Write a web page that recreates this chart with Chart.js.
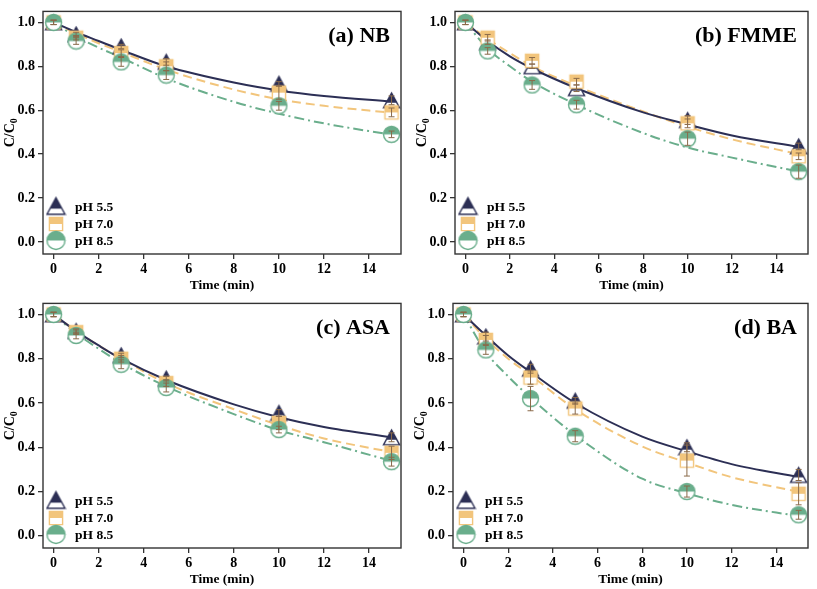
<!DOCTYPE html>
<html><head><meta charset="utf-8">
<script src="https://cdn.jsdelivr.net/npm/chart.js@4.4.1/dist/chart.umd.min.js"></script>
<style>
body{margin:0;background:#fff;width:817px;height:589px;overflow:hidden;position:relative}
canvas{position:absolute}
</style></head><body>
<canvas id="ca" width="410" height="292" style="left:0;top:0"></canvas>
<canvas id="cb" width="407" height="292" style="left:410px;top:0"></canvas>
<canvas id="cc" width="410" height="294" style="left:0;top:292px"></canvas>
<canvas id="cd" width="407" height="294" style="left:410px;top:292px"></canvas>
<script>
// ---------------- DATA ----------------
const times = [0, 1, 3, 5, 10, 15];
const fitTimes = [0, 1, 2, 3, 5, 8, 10, 12, 15];
const xTicks = [0, 2, 4, 6, 8, 10, 12, 14];
const yTicks = [0, 0.2, 0.4, 0.6, 0.8, 1.0];
const seriesNames = ['pH 5.5', 'pH 7.0', 'pH 8.5'];
const panelLabels = ['(a) NB', '(b) FMME', '(c) ASA', '(d) BA'];

// (a) NB
const nb_55 = [1.00, 0.945, 0.89, 0.82, 0.72, 0.645];
const nb_70 = [1.00, 0.93, 0.86, 0.80, 0.68, 0.59];
const nb_85 = [1.00, 0.915, 0.82, 0.76, 0.62, 0.49];
const nb_55_err = [0.01, 0.01, 0.01, 0.015, 0.01, 0.02];
const nb_70_err = [0.01, 0.01, 0.015, 0.02, 0.03, 0.02];
const nb_85_err = [0.01, 0.015, 0.02, 0.02, 0.02, 0.015];
const nb_55_fit = [1.0, 0.955, 0.915, 0.875, 0.80, 0.726, 0.69, 0.665, 0.64];
const nb_70_fit = [1.0, 0.95, 0.905, 0.865, 0.785, 0.694, 0.65, 0.62, 0.588];
const nb_85_fit = [1.0, 0.935, 0.885, 0.84, 0.745, 0.638, 0.584, 0.54, 0.488];

// (b) FMME
const fm_55 = [1.00, 0.91, 0.80, 0.70, 0.555, 0.435];
const fm_70 = [1.00, 0.93, 0.825, 0.73, 0.54, 0.39];
const fm_85 = [1.00, 0.87, 0.715, 0.625, 0.47, 0.32];
const fm_55_err = [0.01, 0.01, 0.01, 0.015, 0.02, 0.015];
const fm_70_err = [0.01, 0.015, 0.015, 0.015, 0.02, 0.015];
const fm_85_err = [0.01, 0.015, 0.02, 0.02, 0.03, 0.03];
const fm_55_fit = [1.0, 0.915, 0.845, 0.79, 0.70, 0.59, 0.535, 0.485, 0.433];
const fm_70_fit = [1.0, 0.925, 0.86, 0.80, 0.71, 0.594, 0.525, 0.467, 0.40];
const fm_85_fit = [1.0, 0.88, 0.80, 0.73, 0.625, 0.496, 0.43, 0.384, 0.32];

// (c) ASA
const as_55 = [1.00, 0.925, 0.815, 0.71, 0.555, 0.445];
const as_70 = [1.00, 0.92, 0.80, 0.69, 0.51, 0.375];
const as_85 = [1.00, 0.905, 0.775, 0.67, 0.48, 0.335];
const as_55_err = [0.01, 0.01, 0.01, 0.01, 0.015, 0.02];
const as_70_err = [0.01, 0.01, 0.015, 0.015, 0.03, 0.03];
const as_85_err = [0.01, 0.015, 0.02, 0.02, 0.015, 0.02];
const as_55_fit = [1.0, 0.925, 0.86, 0.80, 0.704, 0.594, 0.536, 0.492, 0.445];
const as_70_fit = [1.0, 0.925, 0.86, 0.80, 0.69, 0.572, 0.50, 0.44, 0.378];
const as_85_fit = [1.0, 0.915, 0.845, 0.78, 0.675, 0.55, 0.477, 0.423, 0.338];

// (d) BA
const ba_55 = [1.00, 0.90, 0.755, 0.61, 0.40, 0.275];
const ba_70 = [1.00, 0.885, 0.715, 0.575, 0.34, 0.19];
const ba_85 = [1.00, 0.84, 0.62, 0.45, 0.20, 0.095];
const ba_55_err = [0.01, 0.02, 0.02, 0.015, 0.02, 0.025];
const ba_70_err = [0.01, 0.02, 0.03, 0.025, 0.07, 0.05];
const ba_85_err = [0.01, 0.02, 0.055, 0.025, 0.025, 0.02];
const ba_55_fit = [1.0, 0.905, 0.815, 0.74, 0.60, 0.448, 0.382, 0.324, 0.265];
const ba_70_fit = [1.0, 0.89, 0.80, 0.726, 0.572, 0.404, 0.331, 0.265, 0.199];
const ba_85_fit = [1.0, 0.83, 0.72, 0.624, 0.455, 0.258, 0.192, 0.14, 0.089];

// ---------------- STYLE ----------------
const COLORS = ['#2c2f55', '#f2c57c', '#6aae8c'];
const ERR_COLOR = '#8a6a4a';
const FONT = "'Liberation Serif', 'Times New Roman', serif";
const SHAPES = ['tri', 'sq', 'circ'];
const DASHES = [[], [9, 5], [10, 4, 2, 4]];

function makeMarker(shape, color, size) {
  const c = document.createElement('canvas');
  const s = size + 3;
  c.width = s; c.height = s;
  const g = c.getContext('2d');
  const cx = s / 2, cy = s / 2, r = size / 2;
  g.lineWidth = 1.4;
  function path() {
    g.beginPath();
    if (shape === 'tri') {
      const h = size * 0.92;
      g.moveTo(cx, cy - h / 2);
      g.lineTo(cx + r, cy + h / 2);
      g.lineTo(cx - r, cy + h / 2);
      g.closePath();
    } else if (shape === 'sq') {
      const q = r * 0.88;
      g.rect(cx - q, cy - q, 2 * q, 2 * q);
    } else {
      g.arc(cx, cy, r, 0, Math.PI * 2);
    }
  }
  path(); g.fillStyle = '#fff'; g.fill();
  g.save();
  path(); g.clip();
  const frac = shape === 'tri' ? 0.66 : 0.5;
  const top = shape === 'tri' ? cy - size * 0.46 : (shape === 'sq' ? cy - r * 0.88 : cy - r);
  const h = shape === 'tri' ? size * 0.92 * frac : (shape === 'sq' ? r * 0.88 * 2 * frac : r);
  g.fillStyle = color;
  g.fillRect(0, top - 1, s, h + 1);
  g.restore();
  path(); g.strokeStyle = color; g.stroke();
  return c;
}
const dataMarkers = SHAPES.map((sh, i) => makeMarker(sh, COLORS[i], sh === 'sq' ? 15 : 16));
const legendMarkers = SHAPES.map((sh, i) => makeMarker(sh, COLORS[i], sh === 'sq' ? 15 : 18));

// plugins
const framePlugin = {
  id: 'frame',
  afterDraw(chart) {
    const {ctx, chartArea: a} = chart;
    ctx.save();
    ctx.strokeStyle = '#333';
    ctx.lineWidth = 1.4;
    ctx.strokeRect(a.left, a.top, a.right - a.left, a.bottom - a.top);
    ctx.restore();
  }
};
const errPlugin = {
  id: 'errbars',
  afterDatasetsDraw(chart) {
    const {ctx} = chart;
    const xs = chart.scales.x, ys = chart.scales.y;
    ctx.save();
    ctx.strokeStyle = ERR_COLOR;
    ctx.lineWidth = 1;
    chart.data.datasets.forEach(ds => {
      if (!ds.errors) return;
      ds.data.forEach((p, i) => {
        const e = ds.errors[i];
        const x = xs.getPixelForValue(p.x);
        const y1 = ys.getPixelForValue(p.y + e), y2 = ys.getPixelForValue(p.y - e);
        ctx.beginPath();
        ctx.moveTo(x, y1); ctx.lineTo(x, y2);
        ctx.moveTo(x - 3, y1); ctx.lineTo(x + 3, y1);
        ctx.moveTo(x - 3, y2); ctx.lineTo(x + 3, y2);
        ctx.stroke();
      });
    });
    ctx.restore();
  }
};
const decorPlugin = {
  id: 'decor',
  afterDraw(chart) {
    const {ctx, chartArea: a} = chart;
    const o = chart.options.plugins.decor;
    ctx.save();
    // panel label
    ctx.fillStyle = '#000';
    ctx.font = 'bold 22px ' + FONT;
    ctx.textAlign = 'right';
    ctx.textBaseline = 'alphabetic';
    ctx.fillText(o.label, a.right - 11, a.top + 31);
    // y title with subscript
    ctx.translate(a.left - 33, (a.top + a.bottom) / 2);
    ctx.rotate(-Math.PI / 2);
    ctx.font = 'bold 14px ' + FONT;
    const w1 = ctx.measureText('C/C').width;
    ctx.font = 'bold 10px ' + FONT;
    const w2 = ctx.measureText('0').width;
    const x0 = -(w1 + w2) / 2;
    ctx.textAlign = 'left';
    ctx.textBaseline = 'middle';
    ctx.font = 'bold 14px ' + FONT;
    ctx.fillText('C/C', x0, 0);
    ctx.font = 'bold 10px ' + FONT;
    ctx.fillText('0', x0 + w1, 4);
    ctx.restore();
    // legend
    ctx.save();
    const rows = [47, 30, 13.5];
    ctx.font = 'bold 13.5px ' + FONT;
    ctx.textBaseline = 'middle';
    ctx.textAlign = 'left';
    ctx.fillStyle = '#000';
    seriesNames.forEach((n, i) => {
      const y = a.bottom - rows[i];
      const m = legendMarkers[i];
      ctx.drawImage(m, a.left + 13 - m.width / 2, y - m.height / 2 - (i === 0 ? 1 : 0));
      ctx.fillText(n, a.left + 32, y + 1);
    });
    ctx.restore();
  }
};

function toXY(xs, ys) { return xs.map((x, i) => ({x: x, y: ys[i]})); }

function makePanel(id, label, pts, errs, fits, yW, padR) {
  const datasets = [];
  fits.forEach((f, i) => {
    datasets.push({
      type: 'line', data: toXY(fitTimes, f), borderColor: COLORS[i], borderWidth: 2,
      borderDash: DASHES[i], pointRadius: 0, fill: false, cubicInterpolationMode: 'monotone',
      order: 10
    });
  });
  pts.forEach((p, i) => {
    datasets.push({
      type: 'line', data: toXY(times, p), showLine: false, pointStyle: dataMarkers[i],
      pointRadius: 8, errors: errs[i], order: 3 - i
    });
  });
  new Chart(document.getElementById(id), {
    type: 'line',
    data: {datasets},
    options: {
      responsive: false, animation: false, devicePixelRatio: 1,
      layout: {padding: {left: 0, right: padR, top: 3, bottom: 0}},
      plugins: {legend: {display: false}, tooltip: {enabled: false}, decor: {label}},
      clip: false,
      scales: {
        x: {
          type: 'linear', min: -0.47, max: 15.42,
          afterFit(s) { s.height = 38; },
          afterBuildTicks(s) { s.ticks = xTicks.map(v => ({value: v})); },
          border: {display: false},
          grid: {display: true, drawOnChartArea: false, drawTicks: true, tickLength: 5, color: '#333', lineWidth: 1.3},
          ticks: {color: '#000', padding: 2, font: {family: FONT, size: 14, weight: 'bold'}, maxRotation: 0, callback: v => String(v)},
          title: {display: true, text: 'Time (min)', color: '#000', padding: 0, font: {family: FONT, size: 13.5, weight: 'bold', lineHeight: 1}}
        },
        y: {
          type: 'linear', min: -0.055, max: 1.05,
          afterFit(s) { s.width = yW; },
          afterBuildTicks(s) { s.ticks = yTicks.map(v => ({value: v})); },
          border: {display: false},
          grid: {display: true, drawOnChartArea: false, drawTicks: true, tickLength: 5, color: '#333', lineWidth: 1.3},
          ticks: {color: '#000', padding: 3, font: {family: FONT, size: 14, weight: 'bold'}, callback: v => v.toFixed(1)}
        }
      }
    },
    plugins: [framePlugin, errPlugin, decorPlugin]
  });
}

makePanel('ca', panelLabels[0], [nb_55, nb_70, nb_85], [nb_55_err, nb_70_err, nb_85_err], [nb_55_fit, nb_70_fit, nb_85_fit], 43, 5);
makePanel('cb', panelLabels[1], [fm_55, fm_70, fm_85], [fm_55_err, fm_70_err, fm_85_err], [fm_55_fit, fm_70_fit, fm_85_fit], 45, 2);
makePanel('cc', panelLabels[2], [as_55, as_70, as_85], [as_55_err, as_70_err, as_85_err], [as_55_fit, as_70_fit, as_85_fit], 43, 5);
makePanel('cd', panelLabels[3], [ba_55, ba_70, ba_85], [ba_55_err, ba_70_err, ba_85_err], [ba_55_fit, ba_70_fit, ba_85_fit], 43, 3);
</script>
</body></html>
